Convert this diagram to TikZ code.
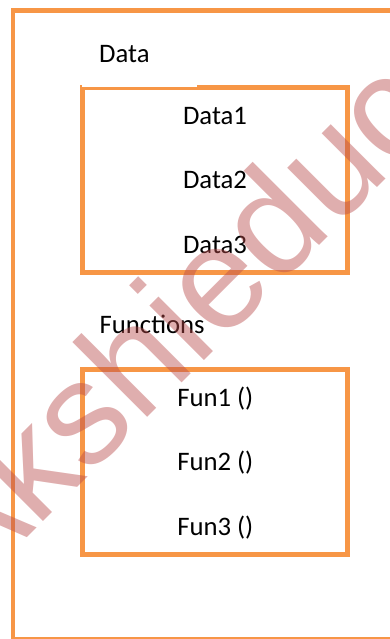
\documentclass[tikz,border=0pt]{standalone}
\usepackage{fontspec}
\setmainfont{Carlito}
\newfontfamily\wmfont{Liberation Sans}
\definecolor{boxorange}{RGB}{247,150,70}
\definecolor{wmred}{RGB}{185,75,75}
\begin{document}
\begin{tikzpicture}[x=1pt,y=-1pt,
  frame/.style={draw=boxorange, line width=4.5pt, inner sep=0pt, minimum width=265pt, minimum height=185pt},
  lbl/.style={font=\fontsize{26.7}{30}\selectfont, inner sep=0pt, text=black},
  item/.style={lbl, anchor=base},
  head/.style={lbl, anchor=base west},
  wm/.style={font=\wmfont\fontsize{146}{148}\selectfont, text=wmred, text opacity=0.45, inner sep=0pt, anchor=base west, rotate=45}]
\useasboundingbox (0,0) rectangle (390,639);
\begin{scope}
\clip (0,0) rectangle (390,639);
\draw[boxorange, line width=4.5pt] (400,10.5) -- (13,10.5) -- (13,639) -- (400,639);
\end{scope}
\node[frame] (databox) at (215,180.2) {};
\node[frame] (funbox) at (215,462) {};
% white label background of "Data"
\fill[white] (81.7,70) rectangle (197,87.3);
\node[head] (datalbl) at (99,62.3) {Data};
\node[item] (d1) at (215,125) {Data1};
\node[item] (d2) at (215,189) {Data2};
\node[item] (d3) at (215,253.3) {Data3};
\node[head] (funlbl) at (99.5,333.3) {Functions};
\node[item] (f1) at (215.3,406.7) {Fun1 ()};
\node[item] (f2) at (215.3,470.7) {Fun2 ()};
\node[item] (f3) at (215.3,535) {Fun3 ()};
\begin{scope}
\clip (0,0) rectangle (390,639);
\node[wm] (mark) at (-32,597) {Akshieducation};
\end{scope}
\end{tikzpicture}
\end{document}
